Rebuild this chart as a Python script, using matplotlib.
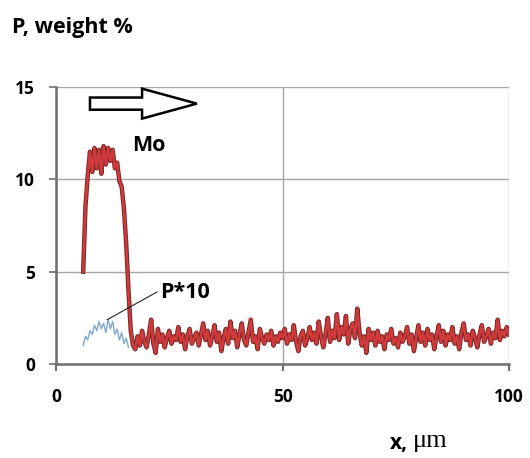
import numpy as np
import matplotlib
matplotlib.use("Agg")
import matplotlib.pyplot as plt
from matplotlib.patches import Polygon

# ---- data ----
x_mo = np.arange(6.0, 100.01, 0.5)
mo_values = [
    5.0, 8.5, 10.2, 11.5, 10.4, 11.7, 10.6, 11.6, 10.3, 11.8,
    10.8, 11.7, 11.0, 11.6, 10.6, 10.9, 9.9, 9.6, 8.4, 6.5,
    4.0, 1.8, 1.0, 0.8, 1.5, 1.0, 1.8, 1.2, 0.9, 1.6,
    2.4, 1.1, 0.6,
    1.9, 1.2, 1.6, 0.9, 1.4, 1.8, 1.1, 1.5, 1.3, 2.0,
    1.2, 1.6, 0.8, 1.5, 1.9, 1.1, 1.4, 1.7, 1.0, 1.6,
    2.2, 1.3, 1.8, 1.0, 1.5, 2.1, 1.2, 1.7, 0.7, 1.4,
    1.9, 1.1, 2.3, 1.4, 1.8, 0.9, 1.6, 2.2, 1.3, 1.0,
    1.7, 2.4, 1.2, 1.5, 0.8, 1.9, 1.4, 1.1, 1.6, 1.3,
    1.8, 1.0, 1.5, 1.2, 1.7, 1.4, 1.9, 1.1, 1.6, 1.3,
    2.1, 1.2, 0.7, 1.5, 1.8, 1.0, 1.4, 2.0, 1.3, 1.7,
    1.1, 2.3, 1.5, 0.9, 1.6, 2.5, 1.2, 1.8, 1.4, 2.7,
    1.3, 2.0, 1.6, 2.6, 1.1, 1.9, 2.2, 1.4, 3.0, 1.7,
    1.0, 1.5, 0.6, 1.9, 1.3, 1.7, 1.0, 1.8, 1.2, 1.5,
    0.8, 1.6, 1.3, 1.9, 1.1, 1.4, 0.9, 1.7, 1.2, 1.5,
    2.0, 1.1, 1.6, 0.7, 1.4, 2.1, 1.2, 1.7, 1.0, 1.9,
    1.3, 1.6, 0.8, 1.5, 2.1, 1.2, 1.8, 1.0, 1.6, 1.3,
    2.0, 1.1, 1.5, 0.8, 1.7, 2.2, 1.3, 1.6, 1.0, 1.8,
    1.4, 0.9, 1.6, 2.1, 1.2, 1.5, 1.9, 1.1, 1.7, 1.4,
    2.4, 1.3, 1.8, 1.5, 2.0, 1.6,
]
x_p = np.arange(6.0, 16.01, 0.5)
p10_values = [1.0, 1.5, 1.3, 1.8, 1.6, 2.1, 1.8, 2.3, 1.9, 2.2,
              1.7, 2.4, 1.9, 2.3, 1.6, 1.9, 1.3, 1.7, 1.1, 1.4, 0.9]

x_ticks = [0, 50, 100]
y_ticks = [0, 5, 10, 15]

# ---- figure ----
W, H = 530, 458
fig = plt.figure(figsize=(W / 100, H / 100), dpi=100)
ax = fig.add_axes([56 / W, 1 - 364 / H, (509 - 56) / W, (364 - 87) / H])
ax.set_xlim(0, 100)
ax.set_ylim(0, 15)

font = "Open Sans"
ax.set_xticks(x_ticks)
ax.set_yticks(y_ticks)
ax.set_xticklabels([str(t) for t in x_ticks], fontfamily=font, fontweight="bold", fontsize=12.5)
ax.set_yticklabels([str(t) for t in y_ticks], fontfamily=font, fontweight="bold", fontsize=12.5)
ax.tick_params(axis="x", length=5, width=1.5, color="#6f6f6f", pad=12)
ax.tick_params(axis="y", length=5, width=1.2, color="#6f6f6f", pad=10)

ax.grid(True, color="#a6a6a6", linewidth=1.0)
for s in ["top", "right"]:
    ax.spines[s].set_visible(False)
for s in ["left", "bottom"]:
    ax.spines[s].set_color("#6f6f6f")
    ax.spines[s].set_linewidth(1.8)

# curves
ax.plot(x_p, p10_values, color="#7fa8cf", linewidth=1.0, zorder=3)
ax.plot(x_mo, mo_values, color="#7a2828", linewidth=3.2, zorder=4)
ax.plot(x_mo, mo_values, color="#d03a3a", linewidth=1.8, zorder=5)

# labels
ax.text(16.8, 11.85, "Mo", fontfamily=font, fontweight="bold", fontsize=15.5,
        va="center", ha="left", zorder=6)
ax.plot([11.3, 22.3], [2.4, 3.9], color="#222222", linewidth=0.8, zorder=6)
ax.text(23.0, 3.85, "P*10", fontfamily=font, fontweight="bold", fontsize=15.5,
        va="center", ha="left", zorder=6)

# hollow arrow
tail, base, tip, yc, sh, hh = 7.5, 19.0, 31.1, 14.1, 0.33, 0.81
arrow = Polygon([[tail, yc - sh], [base, yc - sh], [base, yc - hh], [tip, yc],
                 [base, yc + hh], [base, yc + sh], [tail, yc + sh]],
                closed=True, facecolor="white", edgecolor="black", linewidth=1.8,
                clip_on=False, zorder=7)
ax.add_patch(arrow)

fig.text(12 / W, 1 - 27 / H, "P, weight %", fontfamily=font, fontweight="bold",
         fontsize=15.5, va="center", ha="left")
fig.text(390 / W, 1 - 443 / H, "x,", fontfamily=font, fontweight="bold",
         fontsize=15, va="center", ha="left")
fig.text(413 / W, 1 - 441 / H, "μm", fontfamily="Liberation Serif",
         fontsize=19, va="center", ha="left")

fig.savefig("out.png", dpi=100, facecolor="white")
